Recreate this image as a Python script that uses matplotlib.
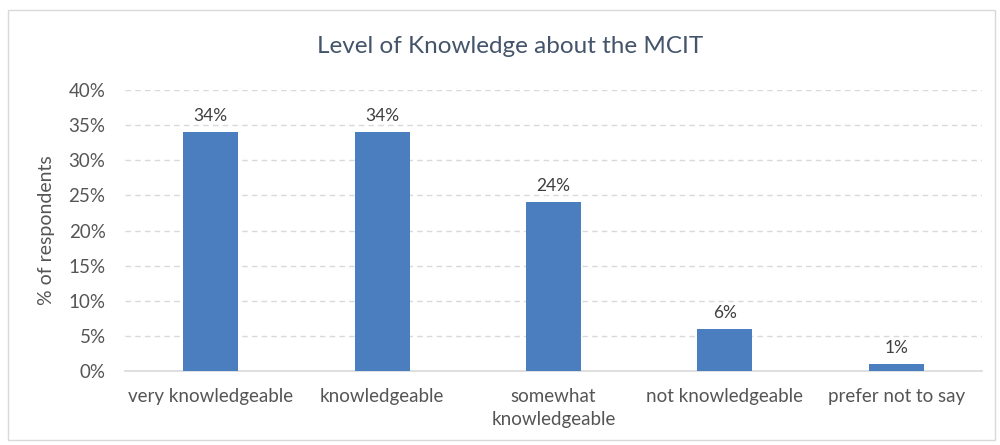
from matplotlib import pyplot as plt
from matplotlib.patches import Rectangle
from matplotlib.ticker import FuncFormatter
import numpy as np

# DATA
categories = ['very knowledgeable', 'knowledgeable', 'somewhat\nknowledgeable',
              'not knowledgeable', 'prefer not to say']
values = [34, 34, 24, 6, 1]
y_ticks = [0, 5, 10, 15, 20, 25, 30, 35, 40]

# STYLE
BAR_COLOR = '#4A7EBF'
TEXT_COLOR = '#555555'
TITLE_COLOR = '#44546A'
GRID_COLOR = '#D9D9D9'
plt.rcParams['font.family'] = ['Lato', 'DejaVu Sans']

# SCRIPT
if __name__ == '__main__':
    fig = plt.figure(figsize=(10, 4.45), dpi=100)
    ax = fig.add_axes([0.125, 0.166, 0.857, 0.632])

    # chart border
    fig.patches.append(Rectangle((0.008, 0.012), 0.987, 0.965,
                                 transform=fig.transFigure, fill=False,
                                 edgecolor='#D9D9D9', linewidth=1.0))

    x = np.arange(len(categories))
    bars = ax.bar(x, values, width=0.32, color=BAR_COLOR, zorder=3)
    for b, v in zip(bars, values):
        ax.text(b.get_x() + b.get_width() / 2, v + 1.2, '{}%'.format(v),
                ha='center', va='bottom', fontsize=12.5, color='#404040')

    ax.set_xlim(-0.5, len(categories) - 0.5)
    ax.set_ylim(0, 40)
    ax.set_yticks(y_ticks)
    ax.yaxis.set_major_formatter(FuncFormatter(lambda v, p: '{:.0f}%'.format(v)))
    ax.set_xticks(x)
    ax.set_xticklabels(categories, fontsize=13.5, color=TEXT_COLOR,
                       linespacing=1.45)
    ax.tick_params(axis='y', labelsize=13.5, labelcolor=TEXT_COLOR, length=0,
                   pad=14)
    ax.tick_params(axis='x', length=0, pad=12)

    ax.yaxis.grid(True, color=GRID_COLOR, linestyle=(0, (4, 3)), linewidth=1,
                  zorder=0)
    for s in ['top', 'right', 'left']:
        ax.spines[s].set_visible(False)
    ax.spines['bottom'].set_color('#D9D9D9')
    ax.spines['bottom'].set_linewidth(1.2)

    ax.set_ylabel('% of respondents', fontsize=14, color=TEXT_COLOR,
                  labelpad=10)
    fig.text(0.51, 0.895, 'Level of Knowledge about the MCIT', ha='center',
             va='center', fontsize=17.5, color=TITLE_COLOR)

    fig.savefig('out.png', dpi=100)
